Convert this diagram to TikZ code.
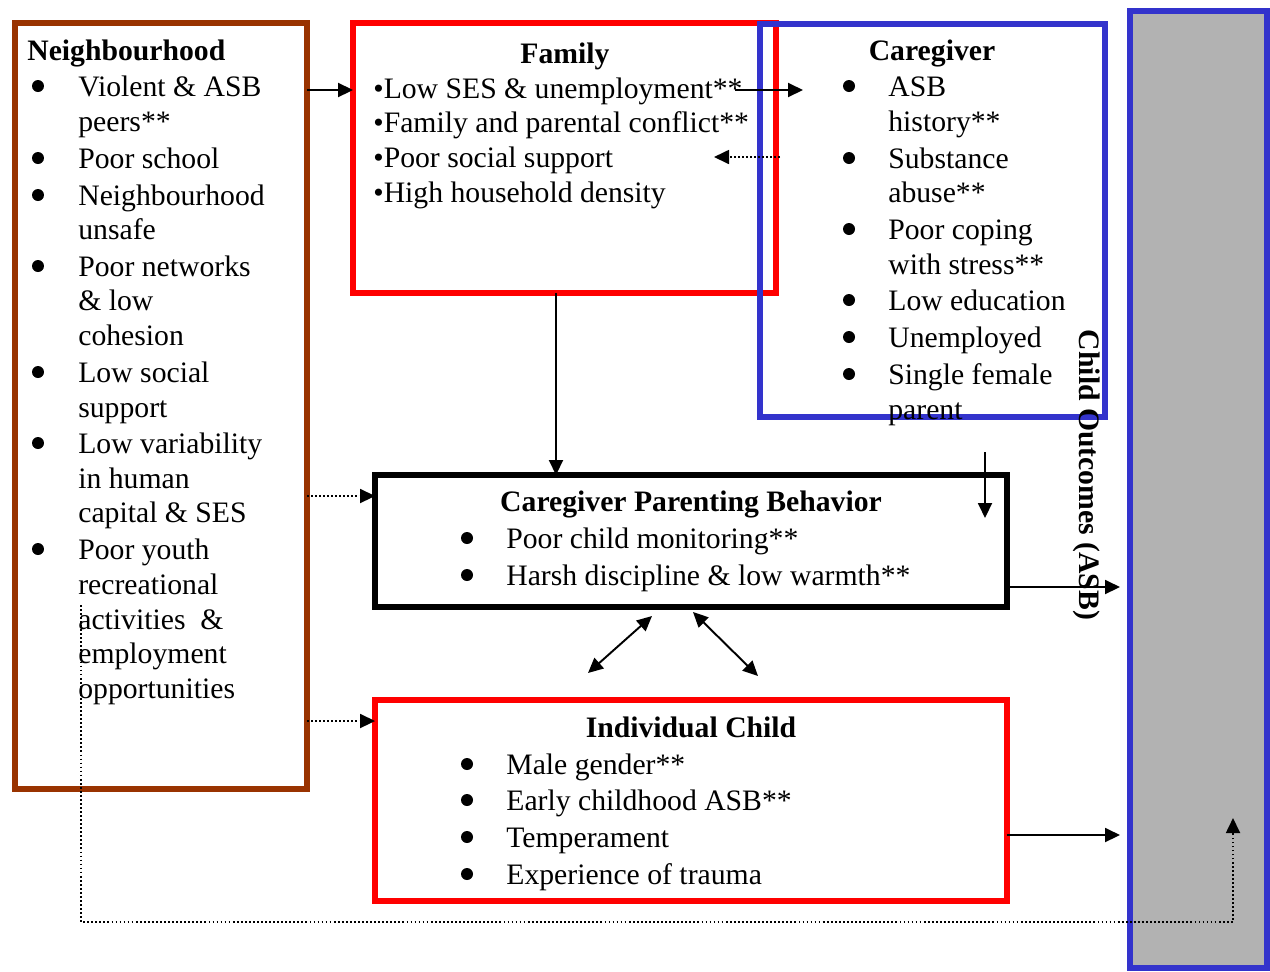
\documentclass[tikz,border=0pt]{standalone}
\usepackage{fontspec}
\setmainfont{Liberation Serif}
\usetikzlibrary{arrows.meta}
\definecolor{nbrown}{HTML}{993300}
\definecolor{nred}{HTML}{FF0000}
\definecolor{nblue}{HTML}{3333CC}
\definecolor{ngray}{HTML}{B2B2B2}
\tikzset{
  base font/.style={font=\fontsize{16.9pt}{20pt}\selectfont},
  txt/.style={base font, anchor=base west, inner sep=0pt},
  ttl/.style={font=\fontsize{16.9pt}{20pt}\selectfont\bfseries, anchor=base, inner sep=0pt},
  bul/.style={circle, fill=black, inner sep=0pt, minimum size=0.24cm, yshift=0.2cm},
  box/.style={draw, rectangle, line width=0.13cm, inner sep=0pt, outer sep=0pt},
  arr/.style={line width=1.1pt, -{Triangle[length=0.3cm,width=0.28cm]}},
  darr/.style={line width=1.1pt, {Triangle[length=0.3cm,width=0.28cm]}-{Triangle[length=0.3cm,width=0.28cm]}},
  dotl/.style={line width=1pt, dash pattern=on 1pt off 1.3pt},
}
\begin{document}
\begin{tikzpicture}[x=0.02cm,y=-0.02cm]
\useasboundingbox (0,0) rectangle (1270,971);
% boxes
\node[box, draw=nblue, fill=ngray, minimum width=2.74cm, minimum height=19.14cm] (out) at (1198.5,489.5) {};
\node[box, draw=nbrown, minimum width=5.84cm, minimum height=15.32cm] (nb) at (161,406) {};
\node[box, draw=nred, minimum width=8.46cm, minimum height=5.40cm] (fam) at (564.5,158) {};
\node[box, draw=nblue, minimum width=6.90cm, minimum height=7.86cm] (cg) at (932.5,220.5) {};
\node[box, draw=black, minimum width=12.64cm, minimum height=2.64cm] (pb) at (691,541) {};
\node[box, draw=nred, minimum width=12.64cm, minimum height=4.02cm] (ch) at (691,800.5) {};

% helper coordinates
\coordinate (y90) at (0,90);
\coordinate (ff1) at (735,90);
\coordinate (ff2) at (803,90);
\coordinate (cf1) at (780,157);
\coordinate (cf2) at (714,157);
\coordinate (fp) at (556,0);
\coordinate (cp1) at (985,452);
\coordinate (cp2) at (985,518);
\coordinate (y496) at (0,496);
\coordinate (y721) at (0,721);
\coordinate (y587) at (0,587);
\coordinate (y835) at (0,835);
\coordinate (oe) at (1120,0);
\coordinate (d1a) at (652,616);
\coordinate (d1b) at (588,673);
\coordinate (d2a) at (693,612);
\coordinate (d2b) at (758,676);
\coordinate (l1) at (81,605);
\coordinate (l2) at (81,922);
\coordinate (l3) at (1233,922);
\coordinate (l4) at (1233,818);

% connectors
\draw[arr] (nb.east |- y90) -- (fam.west |- y90);
\draw[arr] (ff1) -- (ff2);
\draw[arr, dotl] (cf1) -- (cf2);
\draw[arr] (fam.south -| fp) -- (pb.north -| fp);
\draw[arr] (cp1) -- (cp2);
\draw[arr, dotl] (nb.east |- y496) -- (pb.west |- y496);
\draw[arr, dotl] (nb.east |- y721) -- (ch.west |- y721);
\draw[arr] (pb.east |- y587) -- (oe |- y587);
\draw[arr] (ch.east |- y835) -- (oe |- y835);
\draw[darr] (d1a) -- (d1b);
\draw[darr] (d2a) -- (d2b);
\draw[arr, dotl] (l1) -- (l2) -- (l3) -- (l4);

% Neighbourhood
\node[ttl, anchor=base west] (nbt) at (27,60) {Neighbourhood};
\foreach \yy [count=\i] in {96,168,205,276,382,453,559} {
  \node[bul] (nbb\i) at (38,\yy) {};
}
\foreach \yy/\ytext [count=\i] in {96/{Violent \& ASB}, 131/{peers**}, 168/{Poor school},
  205/{Neighbourhood}, 239/{unsafe}, 276/{Poor networks}, 310/{\& low}, 345/{cohesion},
  382/{Low social}, 417/{support}, 453/{Low variability}, 488/{in human},
  522/{capital \& SES}, 559/{Poor youth}, 594/{recreational}, 629/{activities\ \ \&},
  663/{employment}, 698/{opportunities}} {
  \node[txt] (nbl\i) at (78,\yy) {\ytext};
}

% Family
\node[ttl] (famt) at (565,63) {Family};
\foreach \yy/\ytext [count=\i] in {98/{•Low SES \& unemployment**}, 132/{•Family and parental conflict**},
  167/{•Poor social support}, 202/{•High household density}} {
  \node[txt] (faml\i) at (373,\yy) {\ytext};
}

% Caregiver
\node[ttl] (cgt) at (932,60) {Caregiver};
\foreach \yy [count=\i] in {96,168,239,310,347,384} {
  \node[bul] (cgb\i) at (849,\yy) {};
}
\foreach \yy/\ytext [count=\i] in {96/{ASB}, 131/{history**}, 168/{Substance}, 202/{abuse**},
  239/{Poor coping}, 274/{with stress**}, 310/{Low education}, 347/{Unemployed},
  384/{Single female}, 419/{parent}} {
  \node[txt] (cgl\i) at (888,\yy) {\ytext};
}

% Parenting behaviour
\node[ttl] (pbt) at (691,511) {Caregiver Parenting Behavior};
\foreach \yy/\ytext [count=\i] in {548/{Poor child monitoring**}, 585/{Harsh discipline \& low warmth**}} {
  \node[bul] (pbb\i) at (467,\yy) {};
  \node[txt] (pbl\i) at (506,\yy) {\ytext};
}

% Individual child
\node[ttl] (cht) at (691,737) {Individual Child};
\foreach \yy/\ytext [count=\i] in {774/{Male gender**}, 810/{Early childhood ASB**}, 847/{Temperament}, 884/{Experience of trauma}} {
  \node[bul] (chb\i) at (467,\yy) {};
  \node[txt] (chl\i) at (506,\yy) {\ytext};
}

% Child outcomes
\node[font=\fontsize{16.9pt}{20pt}\selectfont\bfseries, rotate=-90, inner sep=0pt] (cot) at (1087,475) {Child Outcomes (ASB)};
\end{tikzpicture}
\end{document}
